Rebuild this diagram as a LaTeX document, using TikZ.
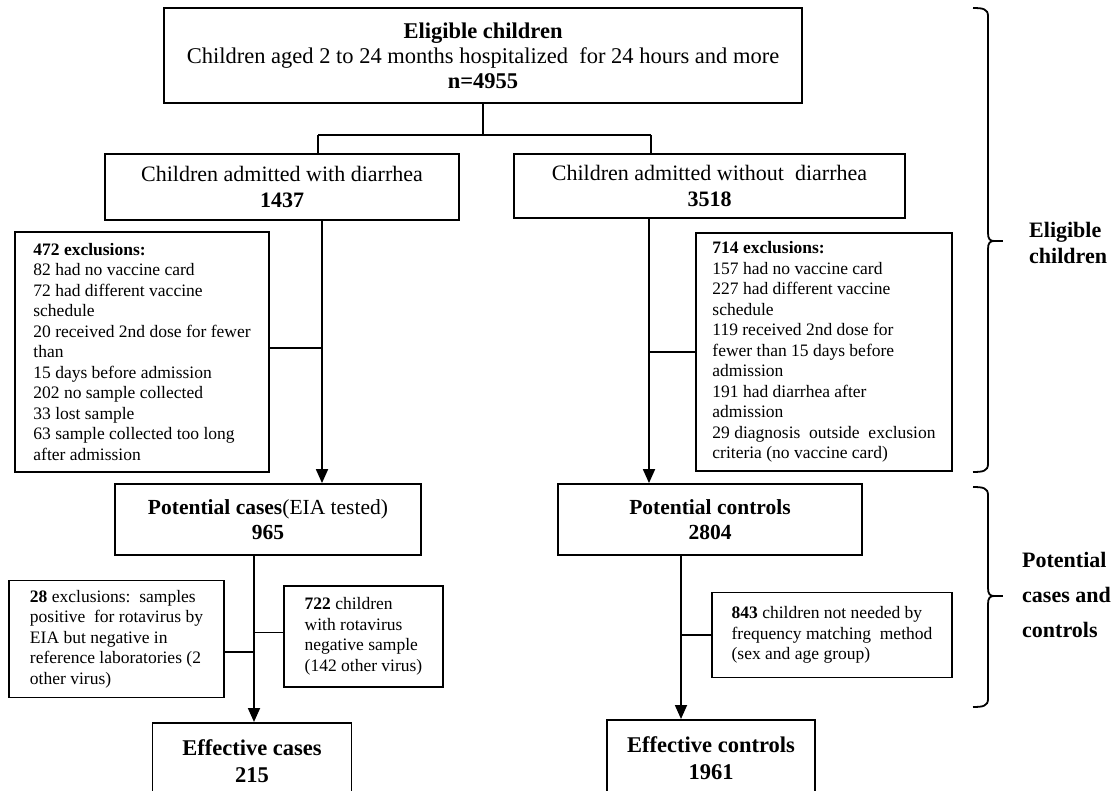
\documentclass[tikz,border=0pt]{standalone}
\usepackage{fontspec}
\setmainfont{Liberation Serif}
\usetikzlibrary{arrows.meta}
\tikzset{
  box/.style={draw, line width=1.8pt, inner sep=0pt, align=center},
  topfont/.style={font=\fontsize{22.5}{25}\selectfont},
  mainfont/.style={font=\fontsize{22}{25.5}\selectfont},
  potfont/.style={font=\fontsize{21.5}{25}\selectfont},
  efffont/.style={font=\fontsize{22.5}{27}\selectfont},
  exclbox/.style={draw, line width=1.6pt, inner sep=0pt, align=left, font=\fontsize{17.5}{20.5}\selectfont},
  ln/.style={line width=1.8pt},
  arr/.style={line width=1.8pt, -{Triangle[width=12pt,length=14pt]}},
  bracestyle/.style={line width=1.8pt},
  sidelabel/.style={inner sep=0pt, align=left, anchor=west, font=\bfseries\fontsize{22}{26}\selectfont}
}
\begin{document}
\begin{tikzpicture}[x=1pt, y=-1pt]
\useasboundingbox (0,0) rectangle (1117,791);
\fill[white] (0,0) rectangle (1117,791);
\clip (0,0) rectangle (1117,791);

% main boxes
\node[box, topfont, minimum width=638pt, minimum height=95pt] (top) at (483,55.5)
  {\textbf{Eligible children}\\Children aged 2 to 24 months hospitalized\ \ for 24 hours and more\\\textbf{n=4955}};
\node[box, mainfont, minimum width=354pt, minimum height=66pt] (diar) at (282,187)
  {Children admitted with diarrhea\\\textbf{1437}};
\node[box, mainfont, minimum width=391pt, minimum height=64pt] (nodiar) at (709.5,186)
  {Children admitted without\ \ diarrhea\\\textbf{3518}};

\node[exclbox, minimum width=254pt, minimum height=240pt] (exclL) at (142,352)
  {\textbf{472 exclusions:}\\82 had no vaccine card\\72 had different vaccine\\schedule\\20 received 2nd dose for fewer\\than\\15 days before admission\\202 no sample collected\\33 lost sample\\63 sample collected too long\\after admission};
\node[exclbox, minimum width=256pt, minimum height=238pt] (exclR) at (824,352)
  {\textbf{714 exclusions:}\\157 had no vaccine card\\227 had different vaccine\\schedule\\119 received 2nd dose for\\fewer than 15 days before\\admission\\191 had diarrhea after\\admission\\29 diagnosis\ \ outside\ \ exclusion\\criteria (no vaccine card)};

\node[box, potfont, minimum width=306pt, minimum height=71pt] (potcases) at (268,519.5)
  {\textbf{Potential cases}(EIA tested)\\\textbf{965}};
\node[box, potfont, minimum width=304pt, minimum height=71pt] (potctrl) at (710,519.5)
  {\textbf{Potential controls}\\\textbf{2804}};

\node[exclbox, minimum width=215pt, minimum height=117pt] (ex28) at (116.5,639)
  {\textbf{28} exclusions:\ \ samples\\positive\ \ for rotavirus by\\EIA but negative in\\reference laboratories (2\\other virus)};
\node[exclbox, minimum width=159pt, minimum height=101pt] (ex722) at (363.5,636.5)
  {\textbf{722} children\\with rotavirus\\negative sample\\(142 other virus)};
\node[exclbox, minimum width=240pt, minimum height=85pt] (ex843) at (832,635)
  {\textbf{843} children not needed by\\frequency matching\ \ method\\(sex and age group)};

\node[box, efffont, minimum width=199pt, minimum height=76pt, anchor=north] (effcases) at (252,722)
  {\textbf{Effective cases}\\\textbf{215}};
\node[box, efffont, minimum width=208pt, minimum height=76pt, anchor=north] (effctrl) at (711,719)
  {\textbf{Effective controls}\\\textbf{1961}};

% junction
\coordinate (jL) at (318,135);
\coordinate (jR) at (651,135);
\draw[ln] (top.south) -- (top.south |- jL);
\draw[ln] (jL) -- (jR);
\draw[ln] (jL) -- (jL |- diar.north);
\draw[ln] (jR) -- (jR |- nodiar.north);

% verticals
\coordinate (vL) at (322,0);
\coordinate (vR) at (649,0);
\coordinate (wL) at (254,0);
\coordinate (wR) at (681,0);
\draw[arr] (diar.south -| vL) -- (potcases.north -| vL);
\draw[arr] (nodiar.south -| vR) -- (potctrl.north -| vR);
\draw[arr] (potcases.south -| wL) -- (effcases.north -| wL);
\draw[arr] (potctrl.south -| wR) -- (effctrl.north -| wR);

% side connectors
\draw[ln] ([yshift=4pt]exclL.east) -- ([yshift=4pt]exclL.east -| vL);
\draw[ln] (exclR.west) -- (exclR.west -| vR);
\draw[ln] ([yshift=-13pt]ex28.east) -- ([yshift=-13pt]ex28.east -| wL);
\draw[ln] ([yshift=4pt]ex722.west) -- ([yshift=4pt]ex722.west -| wL);
\draw[ln] (ex843.west) -- (ex843.west -| wR);

% braces
\draw[bracestyle] (973,8) .. controls (983,8) and (988,9) .. (988,16) -- (988,233)
  .. controls (988,239) and (990,241) .. (994,241)
  .. controls (990,241) and (988,243) .. (988,249) -- (988,464)
  .. controls (988,471) and (983,472) .. (973,472);
\draw[line width=2.2pt] (992,241) -- (1003,241);
\draw[bracestyle] (973,487) .. controls (983,487) and (988,488) .. (988,495) -- (988,588)
  .. controls (988,594) and (990,596) .. (994,596)
  .. controls (990,596) and (988,598) .. (988,604) -- (988,699)
  .. controls (988,706) and (983,707) .. (973,707);
\draw[line width=2.2pt] (992,596) -- (1003,596);

\node[sidelabel] (lab1) at (1029,243) {Eligible\\children};
\node[sidelabel, font=\bfseries\fontsize{22}{35}\selectfont] (lab2) at (1022,595) {Potential\\cases and\\controls};
\end{tikzpicture}
\end{document}
